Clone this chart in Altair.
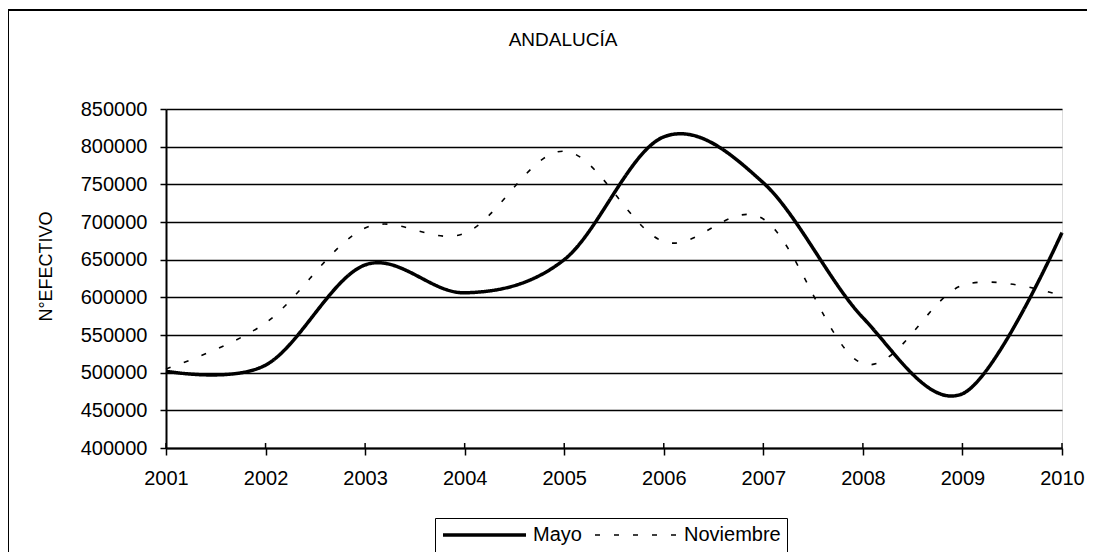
import altair as alt
import pandas as pd

years = [2001, 2002, 2003, 2004, 2005, 2006, 2007, 2008, 2009, 2010]
mayo = [502000, 510000, 643000, 606000, 650000, 813000, 752000, 573000, 472000, 686000]
noviembre = [505000, 566000, 692000, 685000, 794000, 674000, 704000, 512000, 616000, 602000]
series = ["Mayo", "Noviembre"]
y_ticks = [400000, 450000, 500000, 550000, 600000, 650000, 700000, 750000, 800000, 850000]
chart_title = ["ANDALUCÍA"]

rows = []
for s, vals in zip(series, [mayo, noviembre]):
    for yr, v in zip(years, vals):
        rows.append({"serie": s, "year": yr, "value": v})
df = pd.DataFrame(rows)

FONT = "Liberation Sans"
W, H = 896, 339

x_enc = alt.X(
    "year:Q",
    scale=alt.Scale(domain=[2001, 2010], nice=False, zero=False),
    axis=alt.Axis(
        values=years, format="d", title=None, grid=False,
        tickSize=7, tickWidth=1.5, tickColor="black",
        domainColor="black", domainWidth=2,
        labelFont=FONT, labelFontSize=20, labelColor="black", labelPadding=13,
        labelFlush=False,
    ),
)
y_enc = alt.Y(
    "value:Q",
    scale=alt.Scale(domain=[400000, 850000], nice=False, zero=False),
    axis=alt.Axis(
        values=y_ticks, format="d", title="N°EFECTIVO",
        grid=True, gridColor="black", gridWidth=1.5, gridOpacity=1,
        tickSize=6, tickWidth=1.5, tickColor="black",
        domainColor="black", domainWidth=2,
        labelFont=FONT, labelFontSize=20, labelColor="black", labelPadding=13,
        labelFlush=False,
        titleFont=FONT, titleFontSize=18, titleFontWeight="normal", titleColor="black",
        titleAngle=270, titleX=-120, titleY=157, titleAlign="center", titleBaseline="middle",
    ),
)

legend = alt.Legend(
    title=None, orient="none", legendX=269, legendY=409, direction="horizontal",
    symbolType="stroke", symbolSize=6889, symbolStrokeColor="black",
    clipHeight=22, labelFont=FONT, labelFontSize=20, labelColor="black",
    labelOffset=5, columnPadding=12, padding=6,
    strokeColor="black", fillColor="white",
)

lines = alt.Chart(df).mark_line(interpolate="cardinal", color="black").encode(
    x=x_enc,
    y=y_enc,
    strokeDash=alt.StrokeDash(
        "serie:N", scale=alt.Scale(domain=series, range=[[1, 0], [5, 14]]), legend=legend
    ),
    strokeWidth=alt.StrokeWidth(
        "serie:N", scale=alt.Scale(domain=series, range=[3.5, 1.6]), legend=legend
    ),
)

tick_df = pd.DataFrame({"year": years})
up_ticks = alt.Chart(tick_df).mark_rule(color="black", strokeWidth=1.5).encode(
    x=alt.X("year:Q"),
    y=alt.value(H - 5),
    y2=alt.value(H),
)

frame_df = pd.DataFrame({"a": [0]})
frame = alt.Chart(frame_df).mark_rect(
    filled=False, stroke="black", strokeWidth=2, fillOpacity=0
).encode(
    x=alt.value(-158), x2=alt.value(960),
    y=alt.value(-99), y2=alt.value(480),
)

title_df = pd.DataFrame({"t": chart_title})
title = alt.Chart(title_df).mark_text(
    font=FONT, fontSize=19, color="black", align="center", baseline="alphabetic"
).encode(
    text="t:N",
    x=alt.value(397),
    y=alt.value(-63),
)

chart = alt.layer(frame, up_ticks, lines, title).properties(
    width=W,
    height=H,
    autosize=alt.AutoSizeParams(type="none"),
    padding={"left": 158, "top": 101, "right": 25, "bottom": 104},
).configure_view(stroke="black", strokeWidth=2).configure(background="white")

chart.save("out.html", embed_options={"renderer": "svg", "actions": False})
